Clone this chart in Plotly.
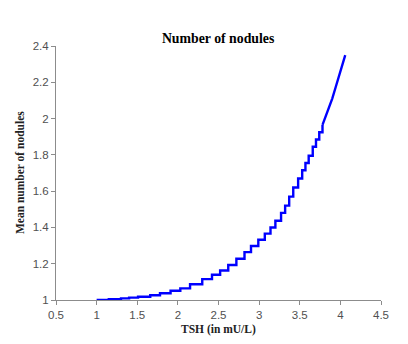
import plotly.graph_objects as go

# staircase part of the curve (step corners)
step_x = [1.00, 1.15, 1.30, 1.40, 1.51, 1.66, 1.78, 1.91, 2.03, 2.15, 2.30,
          2.42, 2.52, 2.62, 2.72, 2.82, 2.90, 2.99, 3.07, 3.14, 3.20, 3.27,
          3.32, 3.37, 3.42, 3.48, 3.53, 3.57, 3.61, 3.66, 3.70, 3.74, 3.78]
step_y = [1.000, 1.004, 1.009, 1.013, 1.018, 1.026, 1.037, 1.051, 1.064,
          1.087, 1.115, 1.139, 1.163, 1.193, 1.227, 1.264, 1.298, 1.332,
          1.366, 1.400, 1.437, 1.480, 1.520, 1.570, 1.620, 1.670, 1.715,
          1.755, 1.795, 1.845, 1.885, 1.925, 1.965]

# smooth top end
top_x = [3.78, 3.82, 3.86, 3.90, 3.94, 3.98, 4.02, 4.06]
top_y = [1.965, 2.010, 2.060, 2.110, 2.170, 2.230, 2.290, 2.350]

x_ticks = [0.5, 1, 1.5, 2, 2.5, 3, 3.5, 4, 4.5]
y_ticks = [1, 1.2, 1.4, 1.6, 1.8, 2, 2.2, 2.4]

line = dict(color='#0000FF', width=2.4)
serif = 'Liberation Serif, Times New Roman'

fig = go.Figure()
fig.add_trace(go.Scatter(x=step_x, y=step_y, mode='lines',
                         line=dict(shape='hv', **line)))
fig.add_trace(go.Scatter(x=top_x, y=top_y, mode='lines', line=line))

axis_common = dict(
    showgrid=False, zeroline=False, automargin=False,
    showline=True, linecolor='#8c8c8c', linewidth=1,
    ticks='outside', ticklen=4, tickcolor='#8c8c8c',
    tickfont=dict(family='Liberation Sans, Arial', size=11.5, color='#505050'),
)

# the page body adds 8px, so margins are 8px smaller on the left/top
fig.update_layout(
    width=408, height=344,
    margin=dict(l=48, r=35, t=38, b=52),
    paper_bgcolor='white', plot_bgcolor='white',
    showlegend=False,
    title=dict(text='<b>Number of nodules</b>', x=0.515, xanchor='center',
               y=0.912, yanchor='middle',
               font=dict(family=serif, size=13.8, color='black')),
    xaxis=dict(range=[0.5, 4.5], tickvals=x_ticks, **axis_common),
    yaxis=dict(range=[1, 2.4], tickvals=y_ticks, **axis_common),
)

# axis titles
fig.add_annotation(text='<b>TSH (in mU/L)</b>', xref='paper', yref='paper',
                   x=0.5, y=0, yshift=-29, showarrow=False,
                   xanchor='center', yanchor='middle',
                   font=dict(family=serif, size=11.5, color='#222'))
fig.add_annotation(text='<b>Mean number of nodules</b>', xref='paper',
                   yref='paper', x=0, y=0.5, xshift=-36, textangle=-90,
                   showarrow=False, xanchor='center', yanchor='middle',
                   font=dict(family=serif, size=11.5, color='#222'))

fig.write_html("out.html")
